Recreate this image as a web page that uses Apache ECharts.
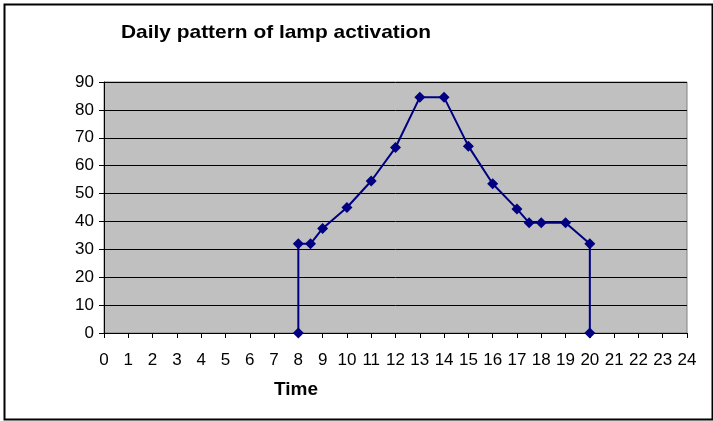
<!DOCTYPE html>
<html>
<head>
<meta charset="utf-8">
<script src="https://cdn.jsdelivr.net/npm/echarts@6/dist/echarts.min.js"></script>
<style>html,body{margin:0;padding:0;background:#fff}#c{width:713px;height:421px}</style>
</head>
<body>
<div id="c"></div>
<script>
const titleText = "Daily pattern of lamp activation";
const xAxisName = "Time";
const hours = [8, 8, 8.5, 9, 10, 11, 12, 13, 14, 15, 16, 17, 17.5, 18, 19, 20, 20];
const activation = [0, 32, 32, 37.5, 45, 54.5, 66.5, 84.5, 84.5, 67, 53.5, 44.5, 39.5, 39.5, 39.5, 32, 0];
const xMin = 0, xMax = 24, xStep = 1;
const yMin = 0, yMax = 90, yStep = 10;

const chart = echarts.init(document.getElementById('c'), null, {renderer: 'canvas'});
chart.setOption({
  animation: false,
  backgroundColor: '#fff',
  grid: {left: 104, right: 26, top: 82, bottom: 88, backgroundColor: '#C0C0C0', show: true, borderColor: '#808080', borderWidth: 1},
  graphic: [{
    type: 'rect', left: 2, top: 2, shape: {width: 708, height: 415},
    style: {fill: 'none', stroke: '#000', lineWidth: 2}, silent: true
  }, {
    type: 'text', x: 121, y: 33, scaleX: 1.1, originX: 0, originY: 0, silent: true,
    style: {text: titleText, font: 'bold 19px Arial, "Liberation Sans"', fill: '#000', textAlign: 'left', textVerticalAlign: 'middle', verticalAlign: 'middle'}
  }],
  xAxis: {
    type: 'value', min: xMin, max: xMax, interval: xStep,
    name: xAxisName, nameLocation: 'middle', nameGap: 47,
    nameTextStyle: {fontFamily: 'Arial, Liberation Sans', fontSize: 19, fontWeight: 'bold', color: '#000', padding: [0, 0, 0, -199]},
    axisLine: {show: true, onZero: false, lineStyle: {color: '#000', width: 1}},
    axisTick: {show: true, length: 5, lineStyle: {color: '#000'}},
    axisLabel: {fontFamily: 'Arial, Liberation Sans', fontSize: 17, color: '#000', margin: 19, hideOverlap: false, showMinLabel: true, showMaxLabel: true},
    splitLine: {show: false}
  },
  yAxis: {
    type: 'value', min: yMin, max: yMax, interval: yStep,
    axisLine: {show: true, lineStyle: {color: '#000', width: 1}},
    axisTick: {show: true, length: 5, lineStyle: {color: '#000'}},
    axisLabel: {fontFamily: 'Arial, Liberation Sans', fontSize: 17, color: '#000', margin: 10},
    splitLine: {show: true, lineStyle: {color: '#000', width: 1}}
  },
  series: [{
    type: 'line',
    data: hours.map((h, i) => [h, activation[i]]),
    symbol: 'diamond', symbolSize: 11,
    lineStyle: {color: '#000080', width: 2},
    itemStyle: {color: '#000080'},
    clip: false
  }]
});
</script>
</body>
</html>
